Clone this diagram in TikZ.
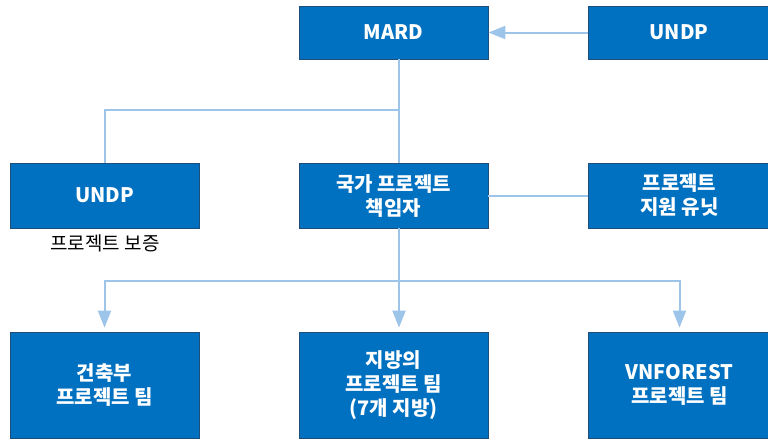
\documentclass[tikz,border=0pt]{standalone}
\usepackage{fontspec}
\setmainfont{Noto Sans CJK KR}
\usetikzlibrary{arrows.meta}
\definecolor{boxblue}{RGB}{0,112,192}
\definecolor{boxedge}{RGB}{31,78,121}
\definecolor{linkblue}{RGB}{157,197,234}
\begin{document}
\begin{tikzpicture}
[x=1pt,y=-1pt,every node/.style={rectangle,draw=boxedge,line width=.8pt,fill=boxblue,text=white,align=center,inner sep=0pt,font=\fontsize{20}{24}\selectfont\bfseries},
link/.style={draw=linkblue,line width=2pt},
linkarrow/.style={link,-{Triangle[length=17pt,width=13pt]}}]
\useasboundingbox (0,0) rectangle (768,440);
\clip (0,0) rectangle (768,440);
\node[minimum width=189pt,minimum height=53pt] (mard) at (393.5,32.5) {MARD};
\node[minimum width=182pt,minimum height=53pt] (undpa) at (679,32.5) {UNDP};
\node[minimum width=189pt,minimum height=65pt] (undpb) at (104.5,195.5) {UNDP};
\node[minimum width=189pt,minimum height=65pt] (npd) at (393.5,195.5) {국가 프로젝트\\책임자};
\node[minimum width=182pt,minimum height=65pt] (psu) at (679.5,195.5) {프로젝트\\지원 유닛};
\node[minimum width=189pt,minimum height=106pt] (t1) at (104.5,385) {건축부\\프로젝트 팀};
\node[minimum width=189pt,minimum height=106pt] (t2) at (393.5,385) {지방의\\프로젝트 팀\\(7개 지방)};
\node[minimum width=182pt,minimum height=106pt] (t3) at (679.5,385) {VNFOREST\\프로젝트 팀};
\node[draw=none,fill=none,text=black,font=\fontsize{19}{24}\selectfont] (assur) at (105,243) {프로젝트 보증};
\coordinate (top) at (399,110);
\coordinate (bus) at (399,281);
\draw[linkarrow] (undpa.west) -- (mard.east);
\draw[link] (mard.south -| top) -- (npd.north -| top);
\draw[link] (top) -| (undpb.north);
\draw[link] (npd.east) -- (psu.west);
\draw[link] (npd.south -| bus) -- (bus);
\foreach \to in {t1,t3}
\draw[linkarrow,shorten >=4pt] (bus) -| (\to.north);
\draw[linkarrow,shorten >=4pt] (bus) -- (t2.north -| bus);
\end{tikzpicture}
\end{document}
